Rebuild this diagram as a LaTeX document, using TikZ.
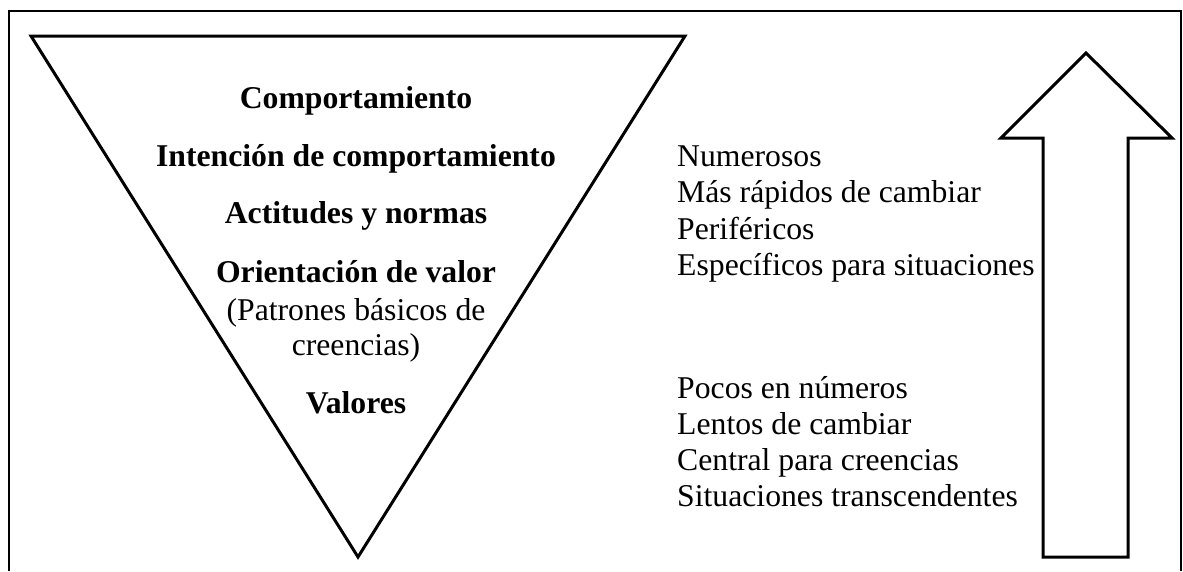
\documentclass[tikz,border=0pt]{standalone}
\usepackage{fontspec}
\setmainfont{Liberation Serif}
\usepackage{tikz}
\usetikzlibrary{positioning}
\tikzset{
  levelname/.style={font=\fontsize{31.7}{36.5}\selectfont\bfseries, anchor=base,
                    inner sep=0pt, align=center},
  levelnote/.style={font=\fontsize{31.7}{35}\selectfont, anchor=base,
                    inner sep=0pt, align=center},
  trait/.style={font=\fontsize{31.7}{36.5}\selectfont, anchor=base west,
                inner sep=0pt},
  outline/.style={draw=black, line width=3pt, line join=miter},
}

\begin{document}
\begin{tikzpicture}[x=1pt, y=-1pt]
  \useasboundingbox (0,0) rectangle (1183,571);

  % frame, open at the bottom
  \draw[line width=2pt] (9,571) -- (9,11) -- (1181,11) -- (1181,571);

  % inverted triangle
  \draw[outline] (31,36) -- (685,36) -- (358,557) -- cycle;

  % levels inside the triangle
  \node[levelname] (comp) at (356,108) {Comportamiento};
  \node[levelname] (intent) at (356,166) {Intención de comportamiento};
  \node[levelname] (attit) at (356,223) {Actitudes y normas};
  \node[levelname] (orient) at (356,282) {Orientación de valor};
  % base sits on the last line here
  \node[levelnote] (pattern) at (356,355) {(Patrones básicos de\\ creencias)};
  \node[levelname] (values) at (356,413) {Valores};

  % traits, top group
  \foreach \t [count=\i] in {Numerosos, Más rápidos de cambiar, Periféricos,
      Específicos para situaciones}
    \node[trait] (top\i) at (677,129.5+36.5*\i) {\t};
  % traits, bottom group
  \foreach \t [count=\i] in {Pocos en números, Lentos de cambiar,
      Central para creencias, Situaciones transcendentes}
    \node[trait] (bot\i) at (677,362+36*\i) {\t};

  % block arrow pointing up
  \draw[outline] (1043,557) -- (1043,138) -- (1001,138) -- (1086,53)
    -- (1172,138) -- (1128,138) -- (1128,557) -- cycle;
\end{tikzpicture}
\end{document}
